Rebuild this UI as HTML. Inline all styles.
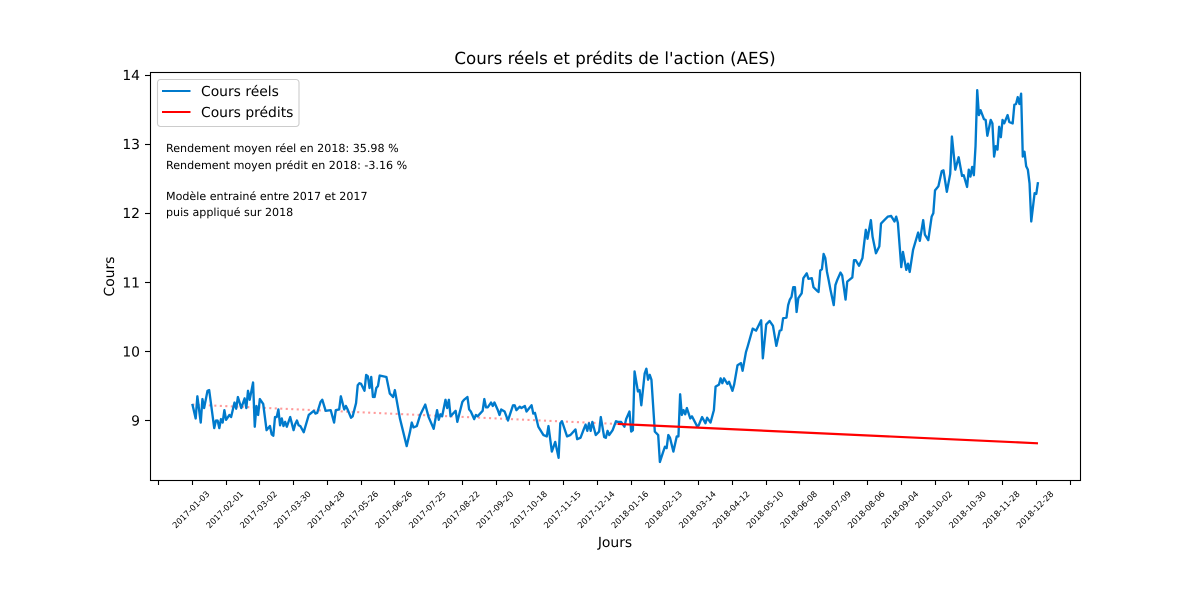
<!DOCTYPE html>
<html lang="fr">
<head>
<meta charset="utf-8">
<title>Cours réels et prédits de l'action (AES)</title>
<style>
html,body{margin:0;padding:0;background:#fff;}
svg{display:block;font-family:"DejaVu Sans","Liberation Sans",sans-serif;fill:#000;text-rendering:geometricPrecision;}
</style>
</head>
<body>
<svg id="chart" width="1200" height="600" viewBox="0 0 1200 600" xmlns="http://www.w3.org/2000/svg">
  <rect x="0" y="0" width="1200" height="600" fill="#ffffff"/>
  <g id="marks"></g>
  <g id="x-axis"></g>
  <g id="y-axis"></g>
  <rect x="150.5" y="72.5" width="930" height="408" fill="none" stroke="#000" stroke-width="1.1"/>
  <text x="615" y="64" font-size="16.67" text-anchor="middle">Cours réels et prédits de l'action (AES)</text>
  <text x="615" y="547" font-size="13.89" text-anchor="middle">Jours</text>
  <text x="114" y="276.5" font-size="13.89" text-anchor="middle" transform="rotate(-90 114 276.5)">Cours</text>
  <g>
    <rect x="157.5" y="79.5" width="141.5" height="47" rx="3" ry="3" fill="#ffffff" fill-opacity="0.8" stroke="#cccccc" stroke-width="1.1"/>
    <line x1="162" y1="91" x2="190.5" y2="91" stroke="#007acc" stroke-width="2.08"/>
    <text x="201" y="96" font-size="13.89">Cours réels</text>
    <line x1="162" y1="112" x2="190.5" y2="112" stroke="#ff0000" stroke-width="2.08"/>
    <text x="201" y="117" font-size="13.89">Cours prédits</text>
  </g>
  <g font-size="11.11">
    <text x="166" y="152">Rendement moyen réel en 2018: 35.98 %</text>
    <text x="166" y="169">Rendement moyen prédit en 2018: -3.16 %</text>
    <text x="166" y="200">Modèle entrainé entre 2017 et 2017</text>
    <text x="166" y="216">puis appliqué sur 2018</text>
  </g>
</svg>
<script>
const tradingDays = [
  0,2,3,5,6,7,9,10,13,14,
  15,16,17,18,19,20,22,23,25,26,
  27,29,31,32,33,34,36,37,38,39,
  40,42,44,46,47,48,49,50,51,52,
  53,54,55,56,58,60,61,62,63,64,
  66,69,70,72,73,74,76,77,79,82,
  84,85,87,88,90,91,92,94,95,97,
  98,99,100,102,103,104,105,106,107,108,
  109,110,111,115,117,119,120,123,124,127,
  129,130,131,133,135,138,140,143,145,146,
  147,148,150,151,152,153,156,157,160,161,
  163,164,165,167,168,169,172,173,174,175,
  177,178,179,181,182,183,185,187,190,191,
  192,194,195,197,198,201,202,203,205,208,
  210,211,213,215,217,218,219,222,224,227,
  228,230,232,233,234,235,236,237,239,241,
  242,244,245,246,247,249,251,252,254,256,
  257,259,260,261,262,264,265,266,268,269,
  270,271,272,274,276,277,279,280,281,282,
  283,285,287,288,289,290,291,292,293,295,
  296,299,300,302,304,305,307,309,310,312,
  313,314,315,317,318,320,321,323,325,326,
  328,329,332,334,336,337,338,340,342,344,
  346,348,349,350,352,353,354,355,356,357,
  358,359,361,362,364,365,367,368,370,371,
  372,373,374,375,376,377,378,380,381,382,
  384,385,387,388,391,392,393,395,397,398,
  399,400,402,403,405,407,408,410,412,414,
  416,417,418,420,421,423,424,425,427,430,
  431,433,434,436,438,439,440,442,444,445,
  447,449,450,452,454,456,457,459,460,461,
  462,463,464,465,466,467,469,470,471,473,
  474,475,476,477,478,479,480,481,483,484,
  486,487,488,489,490,491,492,493,494,495,
  496,497,499,500,501
];
const realPrices = [
  9.24,9.03,9.35,8.97,9.31,9.18,9.43,9.44,8.89,9.00,
  9.00,8.89,9.02,8.97,9.15,9.01,9.08,9.05,9.26,9.17,
  9.34,9.18,9.32,9.18,9.43,9.30,9.55,8.91,9.21,9.08,
  9.31,9.24,8.86,8.92,8.80,8.78,9.05,9.05,9.16,8.93,
  9.03,8.92,8.98,8.91,9.05,8.86,8.95,9.00,8.93,8.92,
  8.83,9.08,9.10,9.14,9.10,9.11,9.27,9.30,9.14,9.15,
  8.97,9.15,9.16,9.35,9.16,9.21,9.16,9.04,9.06,9.25,
  9.51,9.54,9.53,9.43,9.66,9.64,9.47,9.63,9.34,9.34,
  9.47,9.50,9.65,9.63,9.39,9.34,9.44,9.03,8.93,8.63,
  8.84,8.97,8.90,8.92,9.08,9.23,9.05,8.88,9.15,9.01,
  9.09,9.06,9.30,9.18,9.30,9.06,9.14,8.98,9.27,9.30,
  9.34,9.16,9.13,9.02,9.08,9.06,9.14,9.31,9.19,9.19,
  9.26,9.21,9.26,9.15,9.08,9.16,9.13,9.00,9.22,9.22,
  9.15,9.20,9.18,9.21,9.13,9.22,9.10,9.11,8.91,8.79,
  8.77,8.92,8.55,8.69,8.46,8.96,8.99,8.77,8.79,8.87,
  8.73,8.75,8.88,8.94,8.85,8.96,8.85,8.98,8.79,8.84,
  9.05,8.76,8.75,8.85,8.79,8.86,8.99,8.98,8.98,8.91,
  9.02,9.13,8.84,8.86,9.71,9.42,9.44,9.22,9.68,9.75,
  9.59,9.66,9.59,8.84,8.79,8.40,8.55,8.62,8.60,8.79,
  8.75,8.55,8.77,8.77,9.38,9.08,9.15,9.09,9.18,9.03,
  9.06,8.92,8.93,9.05,8.96,9.04,8.97,9.15,9.49,9.52,
  9.61,9.54,9.61,9.53,9.56,9.43,9.52,9.80,9.83,9.72,
  9.99,10.07,10.33,10.30,10.40,10.45,9.90,10.39,10.44,10.37,
  10.08,10.30,10.31,10.48,10.49,10.67,10.75,10.79,10.93,10.93,
  10.57,10.77,10.84,11.06,11.13,11.05,11.06,10.93,10.88,10.86,
  11.17,11.19,11.41,11.35,11.15,11.03,10.90,10.67,10.96,11.03,
  11.14,11.10,10.75,11.01,11.07,11.32,11.32,11.24,11.35,11.56,
  11.76,11.63,11.90,11.66,11.42,11.52,11.85,11.90,11.95,11.96,
  11.88,11.95,11.86,11.22,11.44,11.18,11.27,11.15,11.47,11.72,
  11.60,11.90,11.69,11.61,11.95,12.00,12.33,12.39,12.61,12.62,
  12.31,12.57,13.11,12.63,12.81,12.54,12.55,12.38,12.63,12.53,
  12.67,12.55,12.97,13.78,13.42,13.49,13.36,13.35,13.12,13.35,
  13.30,12.82,12.97,12.92,13.25,13.10,13.35,13.30,13.42,13.32,
  13.30,13.57,13.58,13.68,13.58,13.73,12.82,12.89,12.68,12.63,
  12.43,11.88,12.29,12.28,12.45
];
const trainingPredDays = [0, 252];
const trainingPredValues = [9.23, 8.95];
const testPredDays = [252, 501];
const testPredValues = [8.95, 8.67];
const xTickDays = [-20,0,20,40,60,80,100,120,140,160,180,200,220,240,260,280,300,320,340,360,380,400,420,440,460,480,500,520];
const xTickLabels = ["","2017-01-03","2017-02-01","2017-03-02","2017-03-30","2017-04-28","2017-05-26","2017-06-26","2017-07-25","2017-08-22","2017-09-20","2017-10-18","2017-11-15","2017-12-14","2018-01-16","2018-02-13","2018-03-14","2018-04-12","2018-05-10","2018-06-08","2018-07-09","2018-08-06","2018-09-04","2018-10-02","2018-10-30","2018-11-28","2018-12-28",""];
const yTickValues = [9,10,11,12,13,14];

const NS = 'http://www.w3.org/2000/svg';
function xScale(day){ return 192.3 + day * 1.688; }
function yScale(price){ return 420.5 - (price - 9) * 69.1; }
function linePath(days, values){
  return days.map(function(d, i){
    return (i ? 'L' : 'M') + xScale(d).toFixed(2) + ' ' + yScale(values[i]).toFixed(2);
  }).join(' ');
}
function makeEl(tag, parent){
  const el = document.createElementNS(NS, tag);
  parent.appendChild(el);
  return el;
}

const marks = document.getElementById('marks');

const dotted = makeEl('path', marks);


dotted.setAttribute('d', linePath(trainingPredDays, trainingPredValues));
dotted.setAttribute('fill', 'none');
dotted.setAttribute('stroke', '#ff0000');
dotted.setAttribute('stroke-opacity', '0.4');
dotted.setAttribute('stroke-width', '2.08');
dotted.setAttribute('stroke-dasharray', '2.1 3.4');

const realLine = makeEl('path', marks);


realLine.setAttribute('d', linePath(tradingDays, realPrices));
realLine.setAttribute('fill', 'none');
realLine.setAttribute('stroke', '#007acc');
realLine.setAttribute('stroke-width', '2.35');
realLine.setAttribute('stroke-linejoin', 'round');

const predLine = makeEl('path', marks);


predLine.setAttribute('d', linePath(testPredDays, testPredValues));
predLine.setAttribute('fill', 'none');
predLine.setAttribute('stroke', '#ff0000');
predLine.setAttribute('stroke-width', '2.2');

const xAxis = document.getElementById('x-axis');
xTickDays.forEach(function(day, i){
  const x = xScale(day);
  const snapped = Math.floor(x) + 0.5;
  const tick = makeEl('line', xAxis);
  
  
  tick.setAttribute('x1', snapped);
  tick.setAttribute('x2', snapped);
  tick.setAttribute('y1', 480);
  tick.setAttribute('y2', 485);
  tick.setAttribute('stroke', '#000');
  tick.setAttribute('stroke-width', '1.1');
  if (xTickLabels[i]) {
    const labelX = x - 1.4;
    const label = makeEl('text', xAxis);
    
    
    label.setAttribute('x', labelX);
    label.setAttribute('y', 512.5);
    label.setAttribute('font-size', '8.33');
    label.setAttribute('text-anchor', 'middle');
    label.setAttribute('transform', 'rotate(-45 ' + labelX + ' 509.5)');
    label.textContent = xTickLabels[i];
  }
});

const yAxis = document.getElementById('y-axis');
yTickValues.forEach(function(value){
  const y = yScale(value);
  const snappedY = Math.floor(y) + 0.5;
  const tick = makeEl('line', yAxis);
  
  
  tick.setAttribute('x1', 145);
  tick.setAttribute('x2', 150);
  tick.setAttribute('y1', snappedY);
  tick.setAttribute('y2', snappedY);
  tick.setAttribute('stroke', '#000');
  tick.setAttribute('stroke-width', '1.1');
  const label = makeEl('text', yAxis);
  
  
  label.setAttribute('x', 140);
  label.setAttribute('y', y + 5);
  label.setAttribute('font-size', '13.89');
  label.setAttribute('text-anchor', 'end');
  label.textContent = value;
});
</script>
</body>
</html>
